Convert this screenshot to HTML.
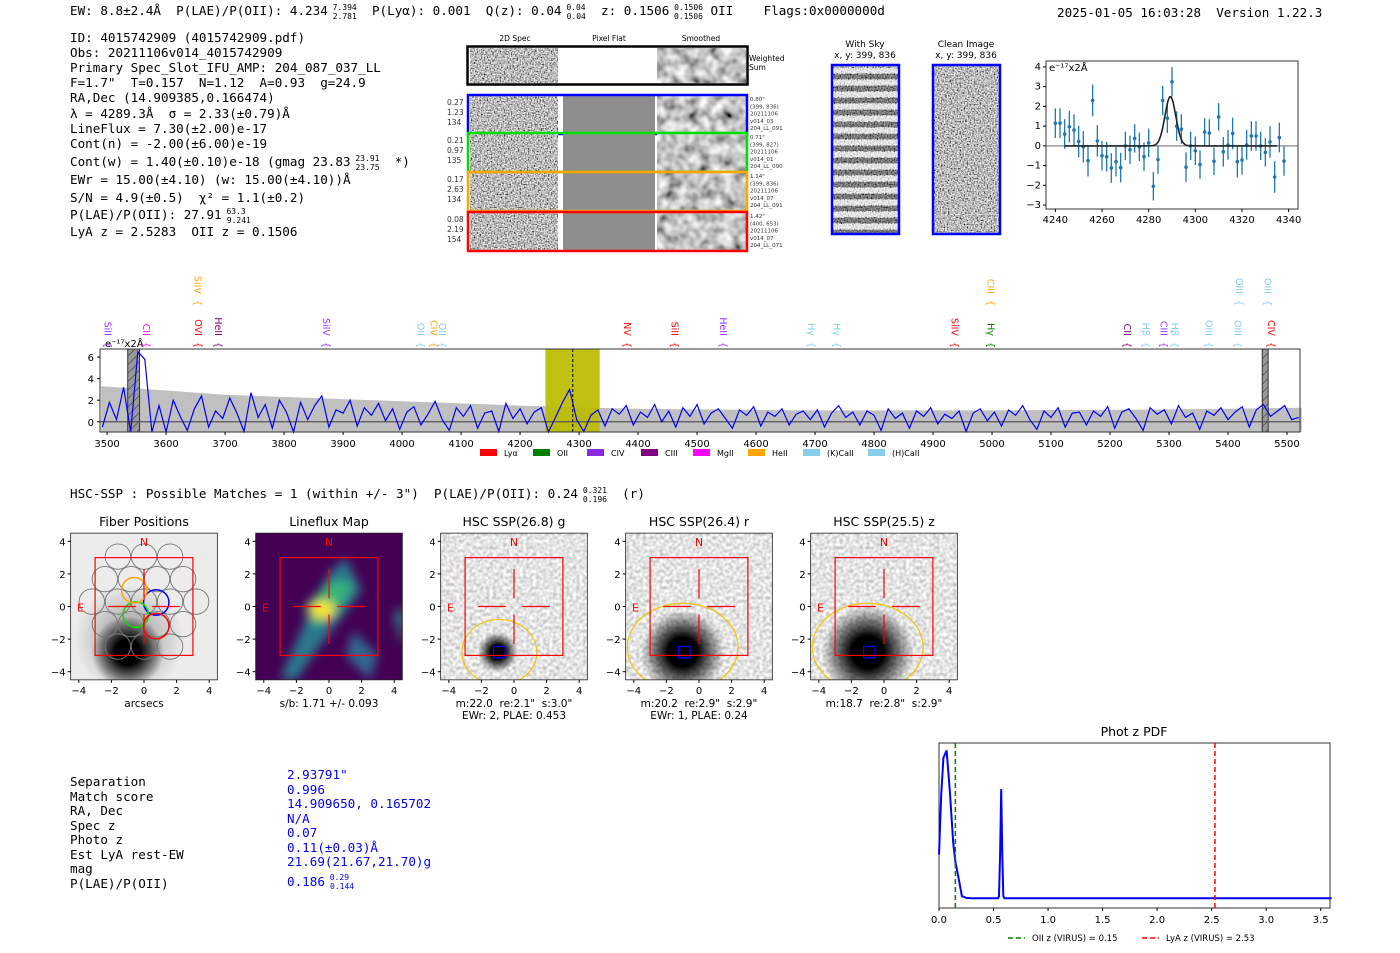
<!DOCTYPE html>
<html><head><meta charset="utf-8"><style>
html,body{margin:0;padding:0;background:#fff}
svg{display:block}
text{white-space:pre}
.m{font-family:"DejaVu Sans Mono","Liberation Mono",monospace;font-size:12.6px;fill:#000}
.s{font-family:"DejaVu Sans","Liberation Sans",sans-serif}
.tk{font-family:"DejaVu Sans","Liberation Sans",sans-serif;font-size:10px;fill:#000}
</style></head><body>
<svg id="root" width="1400" height="953" viewBox="0 0 1400 953" xml:space="preserve" xmlns="http://www.w3.org/2000/svg">
<defs>
<filter id="noise" x="0" y="0" width="100%" height="100%"><feTurbulence type="fractalNoise" baseFrequency="0.7" numOctaves="1" seed="3"/><feColorMatrix type="matrix" values="2.0 0 0 0 -0.5 2.0 0 0 0 -0.5 2.0 0 0 0 -0.5 0 0 0 0 1"/></filter>
<filter id="smooth" x="0" y="0" width="100%" height="100%"><feTurbulence type="fractalNoise" baseFrequency="0.09" numOctaves="2" seed="7"/><feColorMatrix type="matrix" values="1.4 0 0 0 -0.15 1.4 0 0 0 -0.15 1.4 0 0 0 -0.15 0 0 0 0 1"/></filter>
<filter id="fine" x="0" y="0" width="100%" height="100%"><feTurbulence type="fractalNoise" baseFrequency="0.3" numOctaves="1" seed="11"/><feColorMatrix type="matrix" values="0.9 0 0 0 0.33 0.9 0 0 0 0.33 0.9 0 0 0 0.33 0 0 0 0 1"/></filter>
<filter id="blur"><feGaussianBlur stdDeviation="5"/></filter>
<radialGradient id="blobG"><stop offset="0" stop-color="#000"/><stop offset="0.35" stop-color="#000"/><stop offset="1" stop-color="#000" stop-opacity="0"/></radialGradient>
<pattern id="hatch" width="6" height="6" patternUnits="userSpaceOnUse" patternTransform="rotate(45)"><rect width="6" height="6" fill="#999"/><line x1="0" y1="0" x2="0" y2="6" stroke="#333" stroke-width="1"/></pattern>
<clipPath id="cp1"><rect x="71" y="533" width="146" height="147"/></clipPath>
<clipPath id="cp2"><rect x="256" y="533" width="146" height="147"/></clipPath>
<clipPath id="cp3"><rect x="441" y="533" width="146" height="147"/></clipPath>
<clipPath id="cp4"><rect x="626" y="533" width="146" height="147"/></clipPath>
<clipPath id="cp5"><rect x="811" y="533" width="146" height="147"/></clipPath>
</defs>

<g>
<text class="m" x="70" y="15">EW: 8.8±2.4Å  P(LAE)/P(OII): 4.234<tspan font-size="8" dy="-5"> 7.394</tspan><tspan font-size="8" dx="-24" dy="9">2.781</tspan><tspan dy="-4">  P(Lyα): 0.001  Q(z): 0.04</tspan><tspan font-size="8" dy="-5"> 0.04</tspan><tspan font-size="8" dx="-19" dy="9">0.04</tspan><tspan dy="-4">  z: 0.1506</tspan><tspan font-size="8" dy="-5"> 0.1506</tspan><tspan font-size="8" dx="-29" dy="9">0.1506</tspan><tspan dy="-4"> OII    Flags:0x0000000d</tspan></text>
<text class="m" x="1057" y="17">2025-01-05 16:03:28  Version 1.22.3</text>
</g>

<g>
<text class="m" x="70" y="42">ID: 4015742909 (4015742909.pdf)</text>
<text class="m" x="70" y="57">Obs: 20211106v014_4015742909</text>
<text class="m" x="70" y="72">Primary Spec_Slot_IFU_AMP: 204_087_037_LL</text>
<text class="m" x="70" y="87">F=1.7"  T=0.157  N=1.12  A=0.93  g=24.9</text>
<text class="m" x="70" y="102">RA,Dec (14.909385,0.166474)</text>
<text class="m" x="70" y="118">λ = 4289.3Å  σ = 2.33(±0.79)Å</text>
<text class="m" x="70" y="133">LineFlux = 7.30(±2.00)e-17</text>
<text class="m" x="70" y="148">Cont(n) = -2.00(±6.00)e-19</text>
<text class="m" x="70" y="166">Cont(w) = 1.40(±0.10)e-18 (gmag 23.83<tspan font-size="8" dy="-5"> 23.91</tspan><tspan font-size="8" dx="-24" dy="9">23.75</tspan><tspan dy="-4">  *)</tspan></text>
<text class="m" x="70" y="184">EWr = 15.00(±4.10) (w: 15.00(±4.10))Å</text>
<text class="m" x="70" y="202">S/N = 4.9(±0.5)  χ² = 1.1(±0.2)</text>
<text class="m" x="70" y="219">P(LAE)/P(OII): 27.91<tspan font-size="8" dy="-5"> 63.3</tspan><tspan font-size="8" dx="-19" dy="9">9.241</tspan></text>
<text class="m" x="70" y="236">LyA z = 2.5283  OII z = 0.1506</text>
</g>

<g>
<text class="s" font-size="7.5" x="515" y="41" text-anchor="middle">2D Spec</text>
<text class="s" font-size="7.5" x="609" y="41" text-anchor="middle">Pixel Flat</text>
<text class="s" font-size="7.5" x="701" y="41" text-anchor="middle">Smoothed</text>
<g>
<rect x="470" y="48" width="88" height="35" filter="url(#noise)"/>
<rect x="558" y="48" width="99" height="35" fill="#fff"/>
<rect x="657" y="48" width="89" height="35" filter="url(#smooth)"/>
<rect x="467.5" y="46.5" width="280" height="38" fill="none" stroke="#000" stroke-width="2.5"/>
<text class="s" font-size="7.5" x="749" y="61">Weighted</text><text class="s" font-size="7.5" x="749" y="70">Sum</text>
</g>
<g id="fiberRows"></g>
</g>

<g>
<text class="s" font-size="9" x="865" y="47" text-anchor="middle">With Sky</text>
<text class="s" font-size="9" x="865" y="58" text-anchor="middle">x, y: 399, 836</text>
<rect x="832" y="65" width="67" height="169" filter="url(#noise)"/>
<g id="skyStripes"></g>
<rect x="832" y="65" width="67" height="169" fill="none" stroke="#00f" stroke-width="2.5"/>
</g>
<g>
<text class="s" font-size="9" x="966" y="47" text-anchor="middle">Clean Image</text>
<text class="s" font-size="9" x="966" y="58" text-anchor="middle">x, y: 399, 836</text>
<rect x="933" y="65" width="67" height="169" filter="url(#noise)"/>
<rect x="933" y="65" width="67" height="169" fill="none" stroke="#00f" stroke-width="2.5"/>
</g>

<g id="fitPlot"></g>
<g id="specPlot"></g>

<text class="m" x="70" y="498">HSC-SSP : Possible Matches = 1 (within +/- 3")  P(LAE)/P(OII): 0.24<tspan font-size="8" dy="-5"> 0.321</tspan><tspan font-size="8" dx="-24" dy="9">0.196</tspan><tspan dy="-4">  (r)</tspan></text>

<g id="thumbs"></g>

<g>
<text class="m" x="70" y="786">Separation</text>
<text class="m" x="70" y="801">Match score</text>
<text class="m" x="70" y="815">RA, Dec</text>
<text class="m" x="70" y="830">Spec z</text>
<text class="m" x="70" y="844">Photo z</text>
<text class="m" x="70" y="859">Est LyA rest-EW</text>
<text class="m" x="70" y="873">mag</text>
<text class="m" x="70" y="888">P(LAE)/P(OII)</text>
<text class="m" style="fill:#00f" x="287" y="779">2.93791"</text>
<text class="m" style="fill:#00f" x="287" y="794">0.996</text>
<text class="m" style="fill:#00f" x="287" y="808">14.909650, 0.165702</text>
<text class="m" style="fill:#00f" x="287" y="823">N/A</text>
<text class="m" style="fill:#00f" x="287" y="837">0.07</text>
<text class="m" style="fill:#00f" x="287" y="852">0.11(±0.03)Å</text>
<text class="m" style="fill:#00f" x="287" y="866">21.69(21.67,21.70)g</text>
<text class="m" style="fill:#00f" x="287" y="886">0.186<tspan font-size="8" dy="-6"> 0.29</tspan><tspan font-size="8" dx="-19" dy="9">0.144</tspan></text>
</g>

<g id="pdfPlot"></g>
</svg>

<script>
const fitWave = [4240,4242,4244,4246,4248,4250,4252,4254,4256,4258,4260,4262,4264,4266,4268,4270,4272,4274,4276,4278,4280,4282,4284,4286,4288,4290,4292,4294,4296,4298,4300,4302,4304,4306,4308,4310,4312,4314,4316,4318,4320,4322,4324,4326,4328,4330,4332,4334,4336,4338];
const fitFlux = [1.15,1.15,0.6,0.97,0.8,0.22,-0.05,-0.75,2.3,0.25,-0.5,-0.55,-1.12,-0.8,-1.1,0.0,-0.2,0.38,-0.05,-0.55,0.15,-2.05,-0.7,2.3,1.4,3.25,1.0,0.85,-1.08,0.0,-0.25,-0.95,0.7,0.65,-0.78,1.47,-0.3,0.05,0.63,-0.8,-0.72,0.05,0.5,0.5,0.0,-0.33,0.2,-1.58,0.42,-0.77];
const fitErr = [0.75,0.75,0.75,0.8,0.8,0.8,0.8,0.8,0.8,0.8,0.75,0.75,0.75,0.75,0.75,0.72,0.72,0.72,0.72,0.72,0.72,0.72,0.72,0.75,0.75,0.75,0.75,0.75,0.75,0.72,0.72,0.72,0.7,0.7,0.7,0.7,0.75,0.75,0.8,0.8,0.75,0.75,0.75,0.75,0.72,0.72,0.8,0.8,0.75,0.75];
const fitCenter = 4289.3, fitSigma = 2.33, fitAmp = 2.5;
const fitXTicks = [4240,4260,4280,4300,4320,4340];
const fitYTicks = [-3,-2,-1,0,1,2,3,4];

const specStart = 3492, specStep = 12;
const specFlux = [-0.5,1.8,0.2,3.2,-1,6.5,5.8,-1,1.5,-1,2.0,0.5,-0.8,1.2,2.4,-0.5,1.0,0.3,2.2,0.8,
-0.9,2.7,0.4,1.6,-0.6,2.0,0.9,-1.0,1.8,0.2,1.5,2.4,-0.5,1.1,0.8,2.0,-0.4,1.3,0.6,1.7,
0.1,1.2,-0.7,0.9,1.4,-0.3,0.7,1.9,0.2,-0.8,1.3,0.5,1.5,-0.6,0.8,1.0,-0.9,1.7,0.3,1.2,
-0.2,0.9,1.3,-1.0,0.4,1.8,3.0,0.2,-0.9,0.6,1.1,-0.4,1.2,0.7,1.5,-0.3,0.9,0.4,1.6,0.0,
1.0,-0.5,1.3,0.5,1.6,-0.2,0.8,1.2,0.3,-0.6,1.1,0.6,1.4,-0.4,0.9,0.5,1.2,-0.3,0.7,1.0,
0.2,1.1,-0.5,0.8,1.5,0.4,0.9,-0.3,1.0,0.6,-0.8,1.2,0.3,0.8,-0.6,1.0,0.5,1.3,-0.2,0.7,
0.3,1.0,-0.9,0.8,1.2,0.1,0.9,-0.4,1.1,0.6,1.5,0.2,-0.7,1.0,0.4,1.3,-0.5,0.8,0.9,-0.3,
1.0,0.5,1.4,-0.6,0.9,1.2,0.3,-0.8,1.3,0.7,1.1,-0.2,1.5,0.4,0.8,-0.7,1.0,0.6,1.3,0.2,
0.9,1.4,-0.5,1.1,1.6,0.5,1.0,1.5,0.2,0.4];
const errWave = [3490,3600,3700,3800,3900,4000,4100,4200,4300,4400,4500,4600,4700,4800,4900,5000,5100,5200,5300,5400,5525];
const errVals = [3.3,2.9,2.5,2.3,2.1,1.9,1.7,1.5,1.35,1.2,1.15,1.1,1.05,1.05,1.05,1.05,1.1,1.1,1.15,1.2,1.3];
const specXTicks = [3500,3600,3700,3800,3900,4000,4100,4200,4300,4400,4500,4600,4700,4800,4900,5000,5100,5200,5300,5400,5500];
const specYTicks = [0,2,4,6];
const lineNames = ["SiII","CII","SiIV","OVI","HeII","SiIV","OII","CIV","OII","NV","SiII","HeII","Hγ","Hγ","SiIV","CIII","Hγ","CII","Hβ","CIII","Hβ","OIII","OIII","OIII","OIII","CIV"];
const lineWave = [3490,3555,3642,3643,3677,3860,4020,4042,4057,4370,4451,4533,4682,4725,4925,4986,4986,5218,5249,5280,5298,5356,5405,5408,5456,5462];
const lineColors = ["#9b30ff","#ff00ff","#ffa500","#ff0000","#800080","#9b30ff","#87ceeb","#ffa500","#87ceeb","#ff0000","#ff0000","#9b30ff","#87ceeb","#87ceeb","#ff0000","#ffa500","#008000","#800080","#87ceeb","#9b30ff","#87ceeb","#87ceeb","#87ceeb","#87ceeb","#87ceeb","#ff0000"];
const lineRow = [0,0,1,0,0,0,0,0,0,0,0,0,0,0,0,1,0,0,0,0,0,0,0,1,1,0];
const legendNames = ["Lyα","OII","CIV","CIII","MgII","HeII","(K)CaII","(H)CaII"];
const legendColors = ["#ff0000","#008000","#8a2be2","#800080","#ff00ff","#ffa500","#87ceeb","#87ceeb"];

const pdfZ = [0,0.02,0.04,0.07,0.1,0.13,0.15,0.18,0.21,0.25,0.3,0.4,0.5,0.54,0.55,0.56,0.57,0.58,0.59,0.6,0.62,0.7,1.0,2.0,3.0,3.6];
const pdfP = [0.3,0.7,0.95,1.0,0.72,0.38,0.25,0.14,0.02,0.008,0.005,0.005,0.005,0.005,0.02,0.3,0.74,0.3,0.02,0.005,0.005,0.005,0.005,0.005,0.005,0.005];
const pdfXTicks = [0,0.5,1.0,1.5,2.0,2.5,3.0,3.5];
const oiiZ = 0.15, lyaZ = 2.53;

const fiberNames = ["blue","green","orange","red"];
const fiberColors = ["#0000ff","#00e000","#ffa500","#ff0000"];
const fiberStats = [["0.27","1.23","134"],["0.21","0.97","135"],["0.17","2.63","134"],["0.08","2.19","154"]];
const fiberInfo = [["0.80\"","(399, 836)","20211106","v014_03","204_LL_091"],["0.71\"","(399, 827)","20211106","v014_01","204_LL_090"],["1.14\"","(399, 836)","20211106","v014_07","204_LL_091"],["1.42\"","(400, 653)","20211106","v014_07","204_LL_071"]];

const NS = "http://www.w3.org/2000/svg";
function mk(parent, tag, attrs, txt){ const e=document.createElementNS(NS,tag); for(const k in attrs) e.setAttribute(k,attrs[k]); if(txt!==undefined) e.textContent=txt; parent.appendChild(e); return e; }

(function(){
  const g=document.getElementById('fiberRows');
  const ys=[96,134,173,213];
  for(let i=0;i<4;i++){
    const y=ys[i];
    const row=mk(g,'g',{});
    
    
    mk(row,'rect',{x:470,y:y,width:88,height:37,filter:'url(#noise)'});
    mk(row,'rect',{x:563,y:y,width:92,height:37,fill:'#8e8e8e'});
    mk(row,'rect',{x:657,y:y,width:89,height:37,filter:'url(#smooth)'});
    mk(row,'rect',{x:468,y:y-1,width:279,height:39,fill:'none',stroke:fiberColors[i],'stroke-width':2.5});
    for(let j=0;j<3;j++) mk(row,'text',{x:447,y:y+9+j*10,class:'s','font-size':7.5,fill:'#333'},fiberStats[i][j]);
    for(let j=0;j<5;j++) mk(row,'text',{x:750,y:y+5+j*7.3,class:'s','font-size':5.5,fill:'#333'},fiberInfo[i][j]);
  }
  const sg=document.getElementById('skyStripes');
  for(let k=0;k<14;k++){ mk(sg,'rect',{x:832,y:68+k*12,width:67,height:5,fill:'#fff',opacity:0.6}); mk(sg,'rect',{x:832,y:74+k*12,width:67,height:5,fill:'#000',opacity:0.35}); }
})();

(function(){
  const g=document.getElementById('fitPlot');
  const L=1046,R=1298,T=61,B=209, x0=4236,x1=4344, y0=-3.2,y1=4.3;
  const sx=v=>L+(v-x0)/(x1-x0)*(R-L), sy=v=>B-(v-y0)/(y1-y0)*(B-T);
  mk(g,'rect',{x:L,y:T,width:R-L,height:B-T,fill:'#fff',stroke:'#333','stroke-width':1});
  mk(g,'line',{x1:L,x2:R,y1:sy(0),y2:sy(0),stroke:'#888','stroke-width':1.2});
  fitXTicks.forEach(t=>{ mk(g,'line',{x1:sx(t),x2:sx(t),y1:B,y2:B+3,stroke:'#000'}); mk(g,'text',{x:sx(t),y:B+14,class:'tk','font-size':9,'text-anchor':'middle'},t); });
  fitYTicks.forEach(t=>{ mk(g,'line',{x1:L-3,x2:L,y1:sy(t),y2:sy(t),stroke:'#000'}); mk(g,'text',{x:L-5,y:sy(t)+3,class:'tk','font-size':9,'text-anchor':'end'},t<0?'−'+(-t):t); });
  mk(g,'text',{x:L+3,y:T+10,class:'tk','font-size':9},'e⁻¹⁷x2Å');
  for(let i=0;i<fitWave.length;i++){
    const x=sx(fitWave[i]);
    const eb=mk(g,'line',{x1:x,x2:x,y1:sy(fitFlux[i]-fitErr[i]),y2:sy(fitFlux[i]+fitErr[i]),stroke:'#1f77b4','stroke-width':1.3});
    
    
    const p=mk(g,'circle',{cx:x,cy:sy(fitFlux[i]),r:1.8,fill:'#1f77b4'});
    
    
  }
  let d='';
  for(let w=4244;w<=4335;w+=0.5){ const v=fitAmp*Math.exp(-0.5*Math.pow((w-fitCenter)/fitSigma,2)); d+=(d?'L':'M')+sx(w).toFixed(1)+','+sy(v).toFixed(1); }
  const c=mk(g,'path',{d:d,fill:'none',stroke:'#222','stroke-width':1.6});
  
  
})();

(function(){
  const g=document.getElementById('specPlot');
  const L=100,R=1300,T=349,B=432, x0=3488,x1=5522, y0=-0.95,y1=6.75;
  const sx=v=>L+(v-x0)/(x1-x0)*(R-L), sy=v=>B-(v-y0)/(y1-y0)*(B-T);
  mk(g,'rect',{x:L,y:T,width:R-L,height:B-T,fill:'#fff'});
  let d='M'+sx(errWave[0])+','+B;
  for(let i=0;i<errWave.length;i++){ d+='L'+sx(errWave[i]).toFixed(1)+','+sy(errVals[i]).toFixed(1); }
  d+='L'+sx(errWave[errWave.length-1])+','+B+'Z';
  const band=mk(g,'path',{d:d,fill:'#c0c0c0'});
  
  
  const hl=mk(g,'rect',{x:sx(4243),y:T,width:sx(4335)-sx(4243),height:B-T,fill:'#bcbc00',opacity:0.92});
  
  
  [[3535,3555],[5458,5468]].forEach(r=>{ const m=mk(g,'rect',{x:sx(r[0]),y:T,width:sx(r[1])-sx(r[0]),height:B-T,fill:'url(#hatch)',stroke:'#333'});   });
  mk(g,'line',{x1:L,x2:R,y1:sy(0),y2:sy(0),stroke:'#555','stroke-width':1.2});
  let p='';
  for(let i=0;i<specFlux.length;i++){ const v=Math.max(y0,Math.min(y1,specFlux[i])); p+=(p?'L':'M')+sx(specStart+i*specStep).toFixed(1)+','+sy(v).toFixed(1); }
  const line=mk(g,'path',{d:p,fill:'none',stroke:'#0000ff','stroke-width':1.2});
  
  
  mk(g,'line',{x1:sx(4289.3),x2:sx(4289.3),y1:T,y2:B,stroke:'#000','stroke-dasharray':'3,2','stroke-width':1});
  mk(g,'rect',{x:L,y:T,width:R-L,height:B-T,fill:'none',stroke:'#333','stroke-width':1});
  specXTicks.forEach(t=>{ mk(g,'line',{x1:sx(t),x2:sx(t),y1:B,y2:B+3,stroke:'#000'}); mk(g,'text',{x:sx(t),y:B+15,class:'tk','text-anchor':'middle'},t); });
  specYTicks.forEach(t=>{ mk(g,'line',{x1:L-3,x2:L,y1:sy(t),y2:sy(t),stroke:'#000'}); mk(g,'text',{x:L-6,y:sy(t)+4,class:'tk','text-anchor':'end'},t); });
  mk(g,'text',{x:L+5,y:T-2,class:'tk'},'e⁻¹⁷x2Å');
  for(let i=0;i<lineNames.length;i++){
    const x=sx(lineWave[i]), yb=lineRow[i]?306:348;
    const t=mk(g,'text',{x:0,y:0,class:'s','font-size':9.5,fill:lineColors[i],transform:'translate('+(x+3.5)+','+yb+') rotate(90)','text-anchor':'end'},lineNames[i]+'  {');
    
    
  }
  const lx=[480,533,587,641,693,748,803,868];
  for(let i=0;i<legendNames.length;i++){
    const e=mk(g,'g',{});
    
    
    mk(e,'rect',{x:lx[i],y:449,width:17,height:7,fill:legendColors[i]});
    mk(e,'text',{x:lx[i]+24,y:456,class:'s','font-size':8},legendNames[i]);
  }
})();

(function(){
  const g=document.getElementById('thumbs');
  const titles=["Fiber Positions","Lineflux Map","HSC SSP(26.8) g","HSC SSP(26.4) r","HSC SSP(25.5) z"];
  const names=["fiber-positions-map","lineflux-map","hsc-g-cutout","hsc-r-cutout","hsc-z-cutout"];
  const sub=[["arcsecs"],["s/b: 1.71 +/- 0.093"],["m:22.0  re:2.1\"  s:3.0\"","EWr: 2, PLAE: 0.453"],["m:20.2  re:2.9\"  s:2.9\"","EWr: 1, PLAE: 0.24"],["m:18.7  re:2.8\"  s:2.9\""]];
  const S=16.3;
  for(let k=0;k<5;k++){
    const cx=144+185*k, cy=606.5;
    const X=v=>cx+v*S, Y=v=>cy-v*S;
    const p=mk(g,'g',{});
    
    
    mk(p,'text',{x:cx,y:526,class:'s','font-size':12.5,'text-anchor':'middle'},titles[k]);
    const im=mk(p,'g',{'clip-path':'url(#cp'+(k+1)+')'});
    if(k==0){
      mk(im,'rect',{x:X(-4.5),y:Y(4.5),width:9*S,height:9*S,fill:'#ececec'});
      mk(im,'circle',{cx:X(-0.9),cy:Y(-2.0),r:55,fill:'url(#blobG)',opacity:0.25});
      mk(im,'circle',{cx:X(-1.0),cy:Y(-2.8),r:36,fill:'url(#blobG)'});
      for(let r=-3;r<=3;r++){ for(let c=-3;c<=3;c++){ const fx=c*1.6+(r%2?0.8:0), fy=r*1.38+0.3; if(Math.hypot(fx,fy-0.2)<4.0) mk(im,'circle',{cx:X(fx),cy:Y(fy),r:0.78*S,fill:'none',stroke:'#777','stroke-width':0.9}); } }
      [[0.75,0.25,'#0000ff'],[-0.5,-0.5,'#00e000'],[-0.6,1.0,'#ffa500'],[0.75,-1.2,'#ff0000']].forEach(f=>mk(im,'circle',{cx:X(f[0]),cy:Y(f[1]),r:0.78*S,fill:'none',stroke:f[2],'stroke-width':1.5}));
    } else if(k==1){
      mk(im,'rect',{x:X(-4.5),y:Y(4.5),width:9*S,height:9*S,fill:'#440154'});
      const bl=mk(im,'g',{filter:'url(#blur)'});
      mk(bl,'polygon',{points:[[-3,-4.5],[-1.5,-1],[0,2],[1,3],[2,1],[0.5,-1],[-1,-3],[-2,-4.5]].map(q=>X(q[0])+','+Y(q[1])).join(' '),fill:'#2a788e'});
      mk(bl,'polygon',{points:[[-1.5,0],[0,1.5],[1.5,1.5],[0.5,-0.5],[-1,-1.2]].map(q=>X(q[0])+','+Y(q[1])).join(' '),fill:'#35b779'});
      mk(bl,'ellipse',{cx:X(-0.4),cy:Y(-0.2),rx:12,ry:9,fill:'#fde725'});
      mk(bl,'polygon',{points:[[4,-0.5],[4.5,-2.5],[4.5,0]].map(q=>X(q[0])+','+Y(q[1])).join(' '),fill:'#2a9d8f'});
      mk(bl,'polygon',{points:[[1.5,-1.5],[3,-3],[2.5,-4.5],[1,-3]].map(q=>X(q[0])+','+Y(q[1])).join(' '),fill:'#31688e'});
    } else {
      mk(im,'rect',{x:X(-4.5),y:Y(4.5),width:9*S,height:9*S,filter:'url(#fine)'});
      const rr=[0,0,20,42,46][k];
      mk(im,'circle',{cx:X(-1.0),cy:Y(-2.8),r:rr,fill:'url(#blobG)'});
      if(k==2) mk(im,'ellipse',{cx:X(-0.9),cy:Y(-2.8),rx:2.3*S,ry:2.0*S,fill:'none',stroke:'#f5c400','stroke-width':1.2});
      else mk(im,'ellipse',{cx:X(-1.0),cy:Y(-2.5),rx:3.4*S,ry:2.7*S,fill:'none',stroke:'#f5c400','stroke-width':1.2});
      mk(im,'rect',{x:X(-1.25),y:Y(-2.45),width:0.7*S,height:0.7*S,fill:'none',stroke:'#0000ff','stroke-width':1.3});
    }
    mk(im,'rect',{x:X(-3),y:Y(3),width:6*S,height:6*S,fill:'none',stroke:'#ff0000','stroke-width':1.2});
    [[-2.2,0,-0.5,0],[0.5,0,2.2,0],[0,0.5,0,2.3],[0,-0.5,0,-2.3]].forEach(s=>mk(im,'line',{x1:X(s[0]),y1:Y(s[1]),x2:X(s[2]),y2:Y(s[3]),stroke:'#ff0000','stroke-width':1.2}));
    mk(im,'text',{x:X(0),y:Y(3.7),class:'s','font-size':11,fill:'#ff0000','text-anchor':'middle'},'N');
    mk(im,'text',{x:X(-3.9),y:Y(-0.3),class:'s','font-size':11,fill:'#ff0000','text-anchor':'middle'},'E');
    mk(p,'rect',{x:X(-4.5),y:Y(4.5),width:9*S,height:9*S,fill:'none',stroke:'#222','stroke-width':0.8});
    [-4,-2,0,2,4].forEach(t=>{
      mk(p,'line',{x1:X(t),x2:X(t),y1:Y(-4.5),y2:Y(-4.5)+3,stroke:'#000'});
      mk(p,'text',{x:X(t),y:Y(-4.5)+14,class:'tk','text-anchor':'middle'},t<0?'−'+(-t):t);
      mk(p,'line',{x1:X(-4.5)-3,x2:X(-4.5),y1:Y(t),y2:Y(t),stroke:'#000'});
      mk(p,'text',{x:X(-4.5)-5,y:Y(t)+4,class:'tk','text-anchor':'end'},t<0?'−'+(-t):t);
    });
    sub[k].forEach((s,j)=>mk(p,'text',{x:cx,y:707+j*12,class:'s','font-size':10.5,'text-anchor':'middle'},s));
  }
})();

(function(){
  const g=document.getElementById('pdfPlot');
  const L=939,R=1330,T=743,B=908, x0=0,x1=3.585, y0=-0.06,y1=1.05;
  const sx=v=>L+(v-x0)/(x1-x0)*(R-L), sy=v=>B-(v-y0)/(y1-y0)*(B-T);
  mk(g,'text',{x:1134,y:736,class:'s','font-size':12.5,'text-anchor':'middle'},'Phot z PDF');
  mk(g,'rect',{x:L,y:T,width:R-L,height:B-T,fill:'#fff',stroke:'#333','stroke-width':1});
  let d='';
  for(let i=0;i<pdfZ.length;i++) d+=(d?'L':'M')+sx(pdfZ[i]).toFixed(1)+','+sy(pdfP[i]).toFixed(1);
  const c=mk(g,'path',{d:d,fill:'none',stroke:'#0000ff','stroke-width':2});
  
  
  const o=mk(g,'line',{x1:sx(oiiZ),x2:sx(oiiZ),y1:T,y2:B,stroke:'#008000','stroke-width':1.5,'stroke-dasharray':'5,3'});
  
  
  const l=mk(g,'line',{x1:sx(lyaZ),x2:sx(lyaZ),y1:T,y2:B,stroke:'#ff0000','stroke-width':1.5,'stroke-dasharray':'5,3'});
  
  
  pdfXTicks.forEach(t=>{ mk(g,'line',{x1:sx(t),x2:sx(t),y1:B,y2:B+3,stroke:'#000'}); mk(g,'text',{x:sx(t),y:B+15,class:'tk','text-anchor':'middle'},t.toFixed(1)); });
  const le=mk(g,'g',{});
  
  
  mk(le,'line',{x1:1008,x2:1025,y1:938,y2:938,stroke:'#008000','stroke-width':1.5,'stroke-dasharray':'5,3'});
  mk(le,'text',{x:1032,y:941,class:'s','font-size':8.5},'OII z (VIRUS) = 0.15');
  mk(le,'line',{x1:1142,x2:1159,y1:938,y2:938,stroke:'#ff0000','stroke-width':1.5,'stroke-dasharray':'5,3'});
  mk(le,'text',{x:1166,y:941,class:'s','font-size':8.5},'LyA z (VIRUS) = 2.53');
})();
</script>
</body></html>
